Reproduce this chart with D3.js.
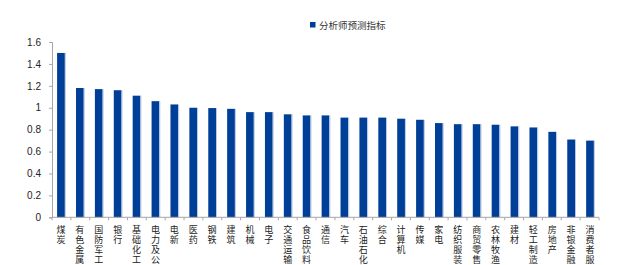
<!DOCTYPE html>
<html lang="zh">
<head>
<meta charset="utf-8" />
<title>分析师预测指标</title>
<style>
   body { margin:0; background:#fff; overflow:hidden; }
   .tick text { font-family:"Liberation Sans",Arial,sans-serif; font-size:10px; fill:#222; }
   .xlab { font-family:"Noto Sans CJK SC",sans-serif; font-size:9px; fill:#222; }
   .legend { font-family:"Noto Sans CJK SC",sans-serif; font-size:9.5px; fill:#333; }
</style>
<script src="https://d3js.org/d3.v7.min.js"></script>
</head>
<body>
<svg id="main" width="634" height="265"></svg>
<script>
var categories = ['煤炭','有色金属','国防军工','银行','基础化工','电力及公','电新','医药','钢铁','建筑',
   '机械','电子','交通运输','食品饮料','通信','汽车','石油石化','综合','计算机','传媒',
   '家电','纺织服装','商贸零售','农林牧渔','建材','轻工制造','房地产','非银金融','消费者服'];
var values = [1.50,1.18,1.17,1.16,1.11,1.06,1.03,1.00,0.997,0.99,
   0.96,0.96,0.94,0.93,0.93,0.91,0.91,0.91,0.90,0.89,
   0.86,0.85,0.85,0.845,0.83,0.82,0.78,0.71,0.70];
var yticks = [0,0.2,0.4,0.6,0.8,1,1.2,1.4,1.6];
var seriesName = '分析师预测指标';

var svg = d3.select('#main');
var pl = 52, pr = 599, pt = 42, pb = 217.3;

var x = d3.scaleBand().domain(categories).range([pl,pr]).paddingInner(0.59).paddingOuter(0.27);
var xb = d3.scaleBand().domain(categories).range([pl,pr]); // for tick boundaries
var y = d3.scaleLinear().domain([0,1.6]).range([pb,pt]);

//y axis
var ya = svg.append('g').attr('transform','translate('+pl+',0)')
   .call(d3.axisLeft(y).tickValues(yticks).tickSize(3).tickPadding(8).tickFormat(d3.format('')));
ya.selectAll('line, path').attr('stroke','#a6a6a6');

//bars
svg.selectAll('rect.bar').data(values).enter().append('rect')
   .attr('class','bar')
   .attr('x',(d,i)=>x(categories[i]))
   .attr('width',x.bandwidth())
   .attr('y',d=>y(d))
   .attr('height',d=>pb-y(d))
   .attr('fill','#003f98');
//light edge on right side of bars
svg.selectAll('line.edge').data(values).enter().append('line')
   .attr('x1',(d,i)=>x(categories[i])+x.bandwidth()+0.5)
   .attr('x2',(d,i)=>x(categories[i])+x.bandwidth()+0.5)
   .attr('y1',d=>y(d)).attr('y2',pb)
   .attr('stroke','#b8c8e6').attr('stroke-width',1);

//x axis line and ticks at band boundaries
svg.append('line').attr('x1',pl).attr('x2',pr).attr('y1',pb).attr('y2',pb)
   .attr('stroke','#a6a6a6');
var bounds = categories.map(c=>xb(c)).concat([pr]);
svg.selectAll('line.xt').data(bounds).enter().append('line')
   .attr('x1',d=>d).attr('x2',d=>d).attr('y1',pb).attr('y2',pb+3)
   .attr('stroke','#a6a6a6');

//vertical category labels
categories.forEach(function(c,i) {
   var cx = x(c)+x.bandwidth()/2;
   var t = svg.append('text').attr('class','xlab').attr('text-anchor','middle');
   c.split('').forEach(function(ch,j) {
      t.append('tspan').attr('x',cx).attr('y',232.5+j*10.3).text(ch);
   });
});

//legend
svg.append('rect').attr('x',310).attr('y',22).attr('width',5.5).attr('height',5.5).attr('fill','#003f98');
svg.append('text').attr('class','legend').attr('x',319).attr('y',28.5).text(seriesName);
</script>
</body>
</html>
